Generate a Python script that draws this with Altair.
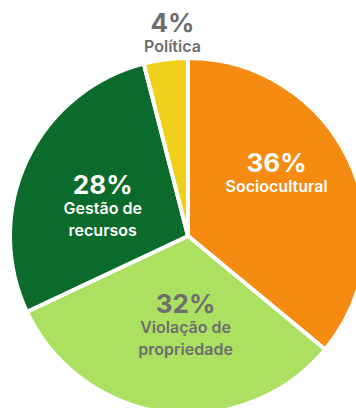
import math
import altair as alt
import pandas as pd

categories = ["Sociocultural", "Violação de propriedade", "Gestão de recursos", "Política"]
values = [36, 32, 28, 4]
name_lines = ["Sociocultural", "Violação de\npropriedade", "Gestão de\nrecursos", "Política"]
colors = ["#F68B12", "#ABE061", "#0A6B2A", "#EFD11C"]
text_colors = ["#FFFFFF", "#6E6E6E", "#FFFFFF", "#6E6E6E"]

# label placement (layout only): angle in degrees from 12 o'clock, radius in px
label_angle_deg = [51, 182, 300.5, 355.8]
label_radius = [114, 69, 99, 213]

df = pd.DataFrame({
    "category": categories,
    "value": values,
    "order": list(range(len(values))),
    "pct": [f"{v}%" for v in values],
    "name": name_lines,
    "color": colors,
    "tcolor": text_colors,
    "ang": [math.radians(a) for a in label_angle_deg],
    "rad": label_radius,
})

CX, CY, R = 188, 236, 178
FONT = "Inter"

arcs = alt.Chart(df).mark_arc(outerRadius=R, stroke="white", strokeWidth=4).encode(
    theta=alt.Theta("value:Q", stack=True),
    order=alt.Order("order:Q"),
    color=alt.Color("color:N", scale=None),
    x=alt.value(CX),
    y=alt.value(CY),
)

pct = alt.Chart(df).mark_text(
    font=FONT, fontSize=26, fontWeight="bold", baseline="middle", align="center"
).encode(
    theta=alt.Theta("ang:Q", scale=None),
    radius=alt.Radius("rad:Q", scale=None),
    text="pct:N",
    color=alt.Color("tcolor:N", scale=None),
    x=alt.value(CX),
    y=alt.value(CY),
)

names = alt.Chart(df).mark_text(
    font=FONT, fontSize=16, fontWeight=600, baseline="top", align="center",
    lineBreak="\n", lineHeight=22, dy=15
).encode(
    theta=alt.Theta("ang:Q", scale=None),
    radius=alt.Radius("rad:Q", scale=None),
    text="name:N",
    color=alt.Color("tcolor:N", scale=None),
    x=alt.value(CX),
    y=alt.value(CY),
)

chart = alt.layer(arcs, pct, names).properties(
    width=356, height=408, autosize=alt.AutoSizeParams(type="none"), padding=0,
    background="white"
).configure_view(stroke=None)

chart.save("out.html", embed_options={"renderer": "svg", "actions": False})
